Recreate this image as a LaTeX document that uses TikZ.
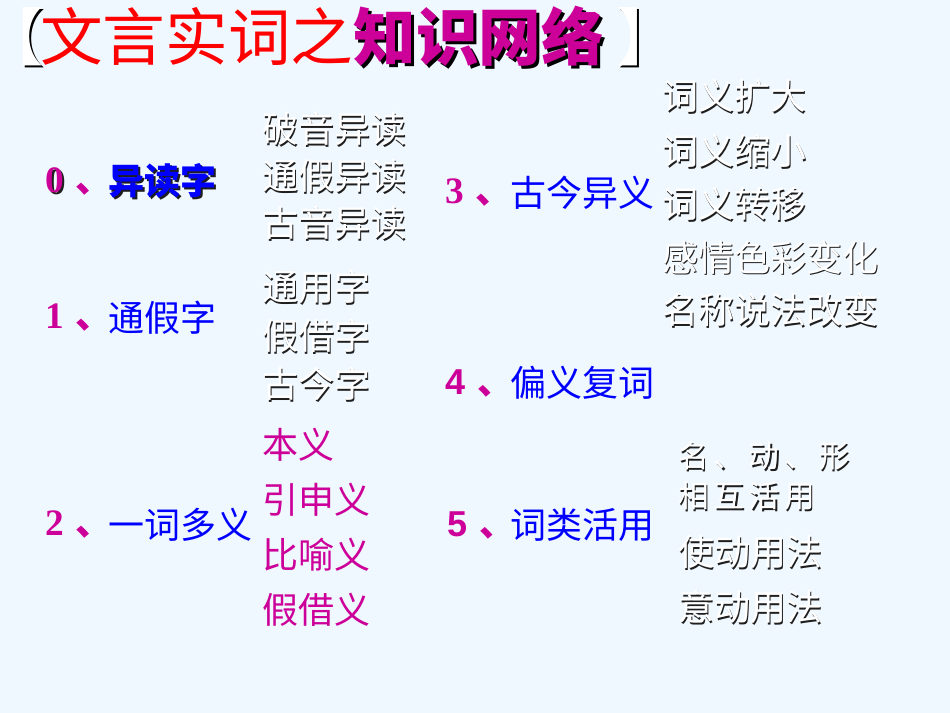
\documentclass[tikz,border=0pt]{standalone}
\usepackage{fontspec}
\setmainfont{Liberation Serif}
\newfontfamily\cjk{Noto Sans CJK SC}
\newfontfamily\numsans{Liberation Sans}
\definecolor{bg}{RGB}{240,248,255}
\definecolor{mag}{RGB}{204,0,153}
\definecolor{blu}{RGB}{0,0,255}
\definecolor{ttl}{RGB}{255,0,0}
\definecolor{shd}{RGB}{30,30,30}
% shadowed text: offset, shadow colour, text colour, text
\newcommand\shtx[4]{\rlap{\kern#1\raisebox{-#1}{\color{#2}#4}}{\color{#3}#4}}
\newcommand\wt[1]{\shtx{1.2pt}{shd}{white}{#1}}
\newcommand\dun{{\cjk\kern9pt\makebox[0.5em][l]{、}}}
\tikzset{
  base/.style={inner sep=0pt, anchor=west},
  numtxt/.style={base, text=mag, font=\fontsize{28}{28}\selectfont\bfseries},
  numsan/.style={base, text=mag, font=\numsans\fontsize{27}{27}\selectfont\bfseries},
  labtxt/.style={base, text=blu, font=\cjk\fontsize{27}{27}\selectfont},
  whitetxt/.style={base, font=\cjk\fontsize{27}{27}\selectfont},
  smalltxt/.style={base, font=\cjk\fontsize{23}{23}\selectfont\addfontfeature{LetterSpace=15}},
  magtxt/.style={base, text=mag, font=\cjk\fontsize{27}{27}\selectfont},
  titletxt/.style={base, font=\cjk\fontsize{47}{47}\selectfont},
}
\begin{document}
\begin{tikzpicture}[x=0.75pt,y=-0.75pt]
\useasboundingbox (0,0) rectangle (950,713);
\fill[bg] (0,0) rectangle (950,713);
% title
\node[titletxt] (title) at (40,38)
  {{\color{ttl}文言实词之}\shtx{2.2pt}{black}{mag}{\bfseries 知识网络}};
\node[titletxt] (lbr) at (0,38)
  {\kern-0.3em\shtx{1.5pt}{black}{white}{【}};
\node[titletxt] (rbr) at ([xshift=9pt]title.east)
  {\shtx{1.5pt}{black}{white}{】}};
% left column labels
\node[numtxt] (num0) at (45,182) {\shtx{1.3pt}{shd}{mag}{0}\dun};
\node[labtxt] (lab0) at (108,182) {\shtx{1.3pt}{shd}{blu}{\bfseries 异读字}};
\node[numtxt] (num1) at (45,318) {1\dun};
\node[labtxt] (lab1) at (108,318) {通假字};
\node[numtxt] (num2) at (45,525) {2\dun};
\node[labtxt] (lab2) at (108,525) {一词多义};
% left lists
\node[whitetxt] (a1) at (262,130) {\wt{破音异读}};
\node[whitetxt] (a2) at (262,177) {\wt{通假异读}};
\node[whitetxt] (a3) at (262,224) {\wt{古音异读}};
\node[whitetxt] (b1) at (262,288) {\wt{通用字}};
\node[whitetxt] (b2) at (262,337) {\wt{假借字}};
\node[whitetxt] (b3) at (262,385) {\wt{古今字}};
\node[magtxt] (c1) at (262,445) {本义};
\node[magtxt] (c2) at (262,500) {引申义};
\node[magtxt] (c3) at (262,555) {比喻义};
\node[magtxt] (c4) at (262,610) {假借义};
% right column labels
\node[numtxt] (num3) at (445,193) {3\dun};
\node[labtxt] (lab3) at (510,193) {古今异义};
\node[numsan] (num4) at (445,383) {4\dun};
\node[labtxt] (lab4) at (510,383) {偏义复词};
\node[numsan] (num5) at (447,525) {5\dun};
\node[labtxt] (lab5) at (510,525) {词类活用};
% right lists
\node[whitetxt] (d1) at (662,97) {\wt{词义扩大}};
\node[whitetxt] (d2) at (662,152) {\wt{词义缩小}};
\node[whitetxt] (d3) at (662,205) {\wt{词义转移}};
\node[whitetxt] (d4) at (662,258) {\wt{感情色彩变化}};
\node[whitetxt] (d5) at (662,311) {\wt{名称说法改变}};
\node[smalltxt] (e1) at (678,457) {\wt{名、动、形}};
\node[smalltxt] (e2) at (678,497) {\wt{相互活用}};
\node[whitetxt] (e3) at (678,553) {\wt{使动用法}};
\node[whitetxt] (e4) at (678,608) {\wt{意动用法}};
\end{tikzpicture}
\end{document}
